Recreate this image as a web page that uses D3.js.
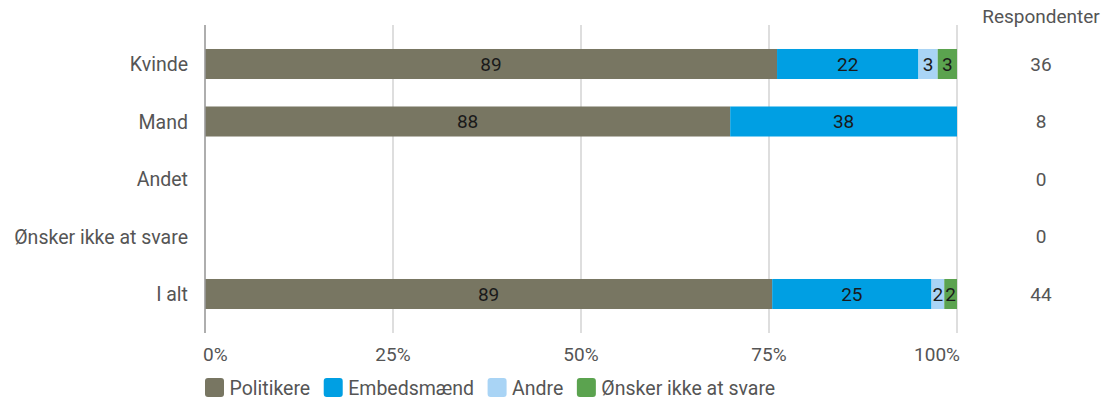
<!DOCTYPE html>
<html><head><meta charset="utf-8">
<script src="https://cdn.jsdelivr.net/npm/d3@7"></script>
<style>body{margin:0;background:#fff;font-family:Roboto,sans-serif}</style>
</head><body><svg id="c" width="1104" height="403"></svg>
<script>
const categories = ["Kvinde","Mand","Andet","Ønsker ikke at svare","I alt"];
const seriesNames = ["Politikere","Embedsmænd","Andre","Ønsker ikke at svare"];
const politikere = [89, 88, 0, 0, 89];
const embedsmaend = [22, 38, 0, 0, 25];
const andre = [3, 0, 0, 0, 2];
const onsker = [3, 0, 0, 0, 2];
const respondenter = [36, 8, 0, 0, 44];
const tickLabels = ["0%","25%","50%","75%","100%"];
const colors = ["#787662","#009fe3","#a9d4f5","#5ba34f"];

const svg = d3.select("#c");
const x = d3.scaleLinear().domain([0,1]).range([205,957]);
const y = d3.scaleBand().domain(categories).range([35.25,322.75]).paddingInner(0.478).paddingOuter(0.239);

// grid
svg.append("g").selectAll("line").data([0.25,0.5,0.75,1]).join("line")
  .attr("x1",d=>x(d)).attr("x2",d=>x(d)).attr("y1",25).attr("y2",333)
  .attr("stroke","#cccccc").attr("stroke-width",1.3);

const series = [politikere, embedsmaend, andre, onsker];
const rows = categories.map((c,i)=>{
  const vals = series.map(s=>s[i]);
  const tot = d3.sum(vals);
  let acc=0;
  return vals.map((v,j)=>{const s0=tot?acc/tot:0; acc+=v; return {c, j, v, s0, s1: tot?acc/tot:0};});
});
const g = svg.append("g");
rows.forEach(r=>r.forEach(d=>{
  if(!d.v) return;
  g.append("rect").attr("x",x(d.s0)).attr("width",x(d.s1)-x(d.s0))
   .attr("y",y(d.c)).attr("height",y.bandwidth()).attr("fill",colors[d.j]);
  g.append("text").attr("x",(x(d.s0)+x(d.s1))/2).attr("y",y(d.c)+y.bandwidth()/2)
   .attr("dy","0.36em").attr("text-anchor","middle").attr("font-size",19).attr("fill","#1a1a1a")
   .text(d.v);
}));

// axis line
svg.append("line").attr("x1",x(0)).attr("x2",x(0)).attr("y1",25).attr("y2",333)
  .attr("stroke","#9a9a9a").attr("stroke-width",1.6);

// category labels
svg.append("g").selectAll("text").data(categories).join("text")
  .attr("x",188).attr("y",d=>y(d)+y.bandwidth()/2).attr("dy","0.36em")
  .attr("text-anchor","end").attr("font-size",19.5).attr("fill","#555").text(d=>d);

// tick labels
svg.append("g").selectAll("text").data(tickLabels).join("text")
  .attr("x",(d,i)=> i===0 ? x(0)-2 : (i===4 ? x(1)+3 : x(i*0.25)))
  .attr("y",354).attr("dy","0.36em")
  .attr("text-anchor",(d,i)=> i===0 ? "start" : (i===4 ? "end" : "middle"))
  .attr("font-size",19).attr("fill","#555").text(d=>d);

// respondenter
svg.append("text").attr("x",1041).attr("y",16).attr("dy","0.36em").attr("text-anchor","middle")
  .attr("font-size",19).attr("fill","#555").text("Respondenter");
svg.append("g").selectAll("text").data(respondenter).join("text")
  .attr("x",1041).attr("y",(d,i)=>y(categories[i])+y.bandwidth()/2).attr("dy","0.36em")
  .attr("text-anchor","middle").attr("font-size",19).attr("fill","#555").text(d=>d);

// legend
const lg = svg.append("g");
let lx = 205;
seriesNames.forEach((n,i)=>{
  lg.append("rect").attr("x",lx).attr("y",378).attr("width",19).attr("height",19).attr("rx",3)
    .attr("fill",colors[i]);
  const t = lg.append("text").attr("x",lx+24.5).attr("y",388).attr("dy","0.36em")
    .attr("font-size",19.5).attr("fill","#555").text(n);
  lx += 24.5 + t.node().getComputedTextLength() + 13.5;
});
</script></body></html>
